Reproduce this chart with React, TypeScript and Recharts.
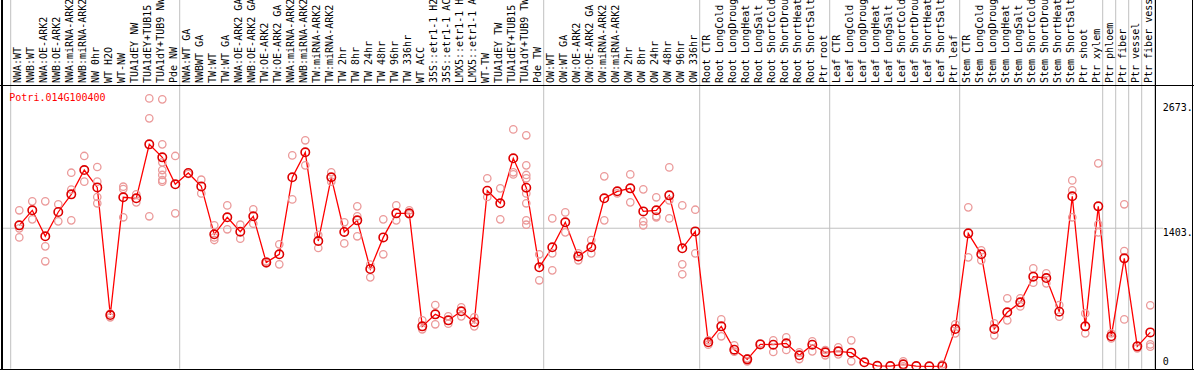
import { ComposedChart, Line, Scatter, XAxis, YAxis, ReferenceLine } from 'recharts';

const geneId = 'Potri.014G100400';

const categories = [
  'NWA:WT', 'NWB:WT', 'NWA:OE-ARK2', 'NWB:OE-ARK2', 'NWA:miRNA-ARK2', 'NWB:miRNA-ARK2',
  'NW 0hr', 'WT H2O', 'WT-NW', 'TUA1dEY NW', 'TUA1dEY+TUB15 NW', 'TUA1dY+TUB9 NW', 'Pde NW',
  'NWA:WT GA', 'NWBWT GA', 'TW:WT', 'TW:WT GA', 'NWA:OE-ARK2 GA', 'NWB:OE-ARK2 GA',
  'TW:OE-ARK2', 'TW:OE-ARK2 GA', 'NWA:miRNA-ARK2', 'NWB:miRNA-ARK2', 'TW:miRNA-ARK2',
  'TW:miRNA-ARK2', 'TW 2hr', 'TW 8hr', 'TW 24hr', 'TW 48hr', 'TW 96hr', 'TW 336hr', 'WT ACC',
  '35S::etr1-1 H2O', '35S::etr1-1 ACC', 'LMX5::etr1-1 H2O', 'LMX5::etr1-1 ACC', 'WT-TW',
  'TUA1dEY TW', 'TUA1dEY+TUB15 TW', 'TUA1dY+TUB9 TW', 'Pde TW',
  'OW:WT', 'OW:WT GA', 'OW:OE-ARK2', 'OW:OE-ARK2 GA', 'OW:miRNA-ARK2', 'OW:miRNA-ARK2',
  'OW 2hr', 'OW 8hr', 'OW 24hr', 'OW 48hr', 'OW 96hr', 'OW 336hr',
  'Root CTR', 'Root LongCold', 'Root LongDrought', 'Root LongHeat', 'Root LongSalt',
  'Root ShortCold', 'Root ShortDrought', 'Root ShortHeat', 'Root ShortSalt', 'Ptr root',
  'Leaf CTR', 'Leaf LongCold', 'Leaf LongDrought', 'Leaf LongHeat', 'Leaf LongSalt',
  'Leaf ShortCold', 'Leaf ShortDrought', 'Leaf ShortHeat', 'Leaf ShortSalt', 'Ptr leaf',
  'Stem CTR', 'Stem LongCold', 'Stem LongDrought', 'Stem LongHeat', 'Stem LongSalt',
  'Stem ShortCold', 'Stem ShortDrought', 'Stem ShortHeat', 'Stem ShortSalt', 'Ptr shoot',
  'Ptr xylem', 'Ptr phloem', 'Ptr fiber', 'Ptr vessel', 'Ptr fiber vessel',
];

// mean expression per sample (red line)
const medians = [
  1432, 1585, 1321, 1568, 1747, 1994, 1818, 521, 1717, 1707, 2255, 2123, 1849,
  1964, 1828, 1341, 1514, 1368, 1524, 1056, 1138, 1920, 2174, 1273, 1920, 1365, 1483, 989,
  1310, 1554, 1554, 406, 528, 467, 559, 447, 1784, 1656, 2113, 1815, 1006,
  1209, 1463, 1117, 1209, 1707, 1778, 1808, 1574, 1585, 1737, 1199, 1371,
  244, 406, 169, 71, 223, 220, 234, 112, 220, 142,
  152, 139, 41, 5, 3, 20, 3, 0, 2, 379,
  1351, 1138, 379, 549, 650, 911, 897, 555, 1727, 406, 1625,
  305, 1097, 203, 345,
];

// individual replicates (pale circles)
const replicates = [
  [1585, 1402, 1310], [1676, 1493], [1676, 1219, 1067], [1646, 1473], [1967, 1795, 1483],
  [2137, 1876], [2025, 1876, 1720, 1656], [535, 498], [1825, 1801, 1514], [1747, 1666],
  [2722, 2519, 1524], [2712, 2255, 2072, 1994, 1944, 1893, 1876], [2137, 1554],
  [1954], [1896, 1757], [1432, 1310, 1283], [1635, 1392], [1439, 1297], [1595, 1449],
  [1067, 1046], [1239, 1036], [2143, 1696], [2296, 2042], [1334, 1202], [1971, 1876],
  [1463, 1249], [1625, 1524, 1321], [1033, 904], [1493, 1138], [1635, 1483], [1585, 1544],
  [467, 376], [623, 427], [508, 433], [599, 508], [498, 406], [1910, 1720], [1808, 1493],
  [2407, 1971, 1950], [2347, 2042, 1944, 1910, 1757, 1656, 1483, 1439], [1138, 874],
  [1503, 1148, 975], [1564, 1361], [1148, 1077], [1283, 1148], [1930, 1483], [1757],
  [1950, 1666], [1798, 1473, 1432], [1717, 1524, 1514], [2021, 1686, 1503],
  [1635, 1036, 935], [1591, 1148],
  [264, 220], [477, 305], [213, 149], [81, 51], [234], [264, 146], [295, 166], [142, 74],
  [254, 152], [166, 112],
  [193, 122], [264, 51], [], [], [], [51, 0], [], [], [20], [427, 335],
  [1615, 1107], [1178, 1077], [437, 315], [691, 467], [691, 609], [995, 850], [945, 843],
  [623, 505], [1889, 1788, 1514], [538, 335], [2062, 1442, 1361],
  [335, 284], [1646, 1171, 477], [183], [620, 223, 200],
];

// sample indexes where a new group starts
const groupBreaks = [0, 13, 41, 53, 63, 73, 84, 85, 86, 87, 88];

const yTicks = [0, 1403, 2673];
const yTickLabels = ['0', '1403.', '2673.'];

const lineData = medians.map((v, i) => ({ x: i, v }));
const repData = replicates.flatMap((vals, i) => vals.map((v) => ({ x: i, v })));

const W = 1194;
const H = 370;
const FONT = '"DejaVu Sans Mono", monospace';
const SHIFT = 0.66; // points sit right of the band centre
const Y_MIN = -24;
const Y_MAX = 2858;

function XTick(props: any) {
  const { x, y, payload } = props;
  const tx = x - 2.1;
  return (
    <text
      x={tx}
      y={y}
      transform={`rotate(-90 ${tx} ${y})`}
      textAnchor="start"
      dominantBaseline="central"
      fontFamily={FONT}
      fontSize={10}
      fill="#000"
    >
      {categories[payload.value]}
    </text>
  );
}

function YTick(props: any) {
  const { x, y, payload } = props;
  const idx = yTicks.indexOf(payload.value);
  const dy = payload.value === 0 ? -4.7 : 4.4;
  return (
    <text x={x} y={y + dy} dominantBaseline="central" fontFamily={FONT} fontSize={10} fill="#000">
      {yTickLabels[idx]}
    </text>
  );
}

const repShape = (p: any) => (
  <circle cx={p.cx} cy={p.cy} r={3.7} fill="none" stroke="#eb9a9a" strokeWidth={1.3} />
);

export default function App() {
  return (
    <div style={{ position: 'absolute', left: 0, top: 0, width: W, height: H, background: '#fff' }}>
      <ComposedChart
        width={W}
        height={H}
        data={lineData}
        margin={{ top: 0, right: 0, bottom: 1.3, left: 10.7 }}
      >
        <XAxis
          xAxisId={0}
          dataKey="x"
          type="number"
          orientation="top"
          height={85}
          domain={[-SHIFT, categories.length - SHIFT]}
          ticks={categories.map((_, i) => i)}
          interval={0}
          axisLine={false}
          tickLine={false}
          tickSize={0}
          tickMargin={2}
          tick={<XTick />}
          allowDataOverflow
        />
        <YAxis
          yAxisId={0}
          dataKey="v"
          type="number"
          orientation="right"
          width={39.3}
          domain={[Y_MIN, Y_MAX]}
          ticks={yTicks}
          interval={0}
          axisLine={false}
          tickLine={false}
          tickSize={0}
          tickMargin={8}
          tick={<YTick />}
          allowDataOverflow
        />
        {groupBreaks.map((b) => (
          <ReferenceLine
            key={`g${b}`}
            segment={[{ x: b - SHIFT, y: Y_MIN }, { x: b - SHIFT, y: 3722 }]}
            stroke="#c0c0c0"
            strokeWidth={1}
            ifOverflow="visible"
          />
        ))}
        <ReferenceLine
          segment={[{ x: -1.41, y: yTicks[1] }, { x: 87.98, y: yTicks[1] }]}
          stroke="#c0c0c0"
          strokeWidth={1}
          ifOverflow="visible"
        />
        <Scatter data={repData} dataKey="v" shape={repShape} isAnimationActive={false} />
        <Line
          type="linear"
          dataKey="v"
          stroke="#ff0000"
          strokeWidth={1.3}
          dot={{ r: 4.2, stroke: '#dd0000', strokeWidth: 1.6, fill: 'none' }}
          activeDot={false}
          isAnimationActive={false}
        />
      </ComposedChart>
      <svg
        width={W}
        height={H}
        style={{ position: 'absolute', left: 0, top: 0, pointerEvents: 'none' }}
        shapeRendering="crispEdges"
      >
        <rect x={1} y={0} width={1.5} height={H} fill="#000" />
        <rect x={0} y={85} width={W} height={1} fill="#000" />
        <rect x={1154.5} y={0} width={1} height={H} fill="#000" />
        <rect x={1191.5} y={0} width={1.5} height={H} fill="#000" />
        <rect x={0} y={368.5} width={W} height={1.5} fill="#000" />
        <text
          x={9.3}
          y={97}
          dominantBaseline="central"
          fontFamily={FONT}
          fontSize={10}
          fill="#ff0000"
          shapeRendering="auto"
        >
          {geneId}
        </text>
      </svg>
    </div>
  );
}
